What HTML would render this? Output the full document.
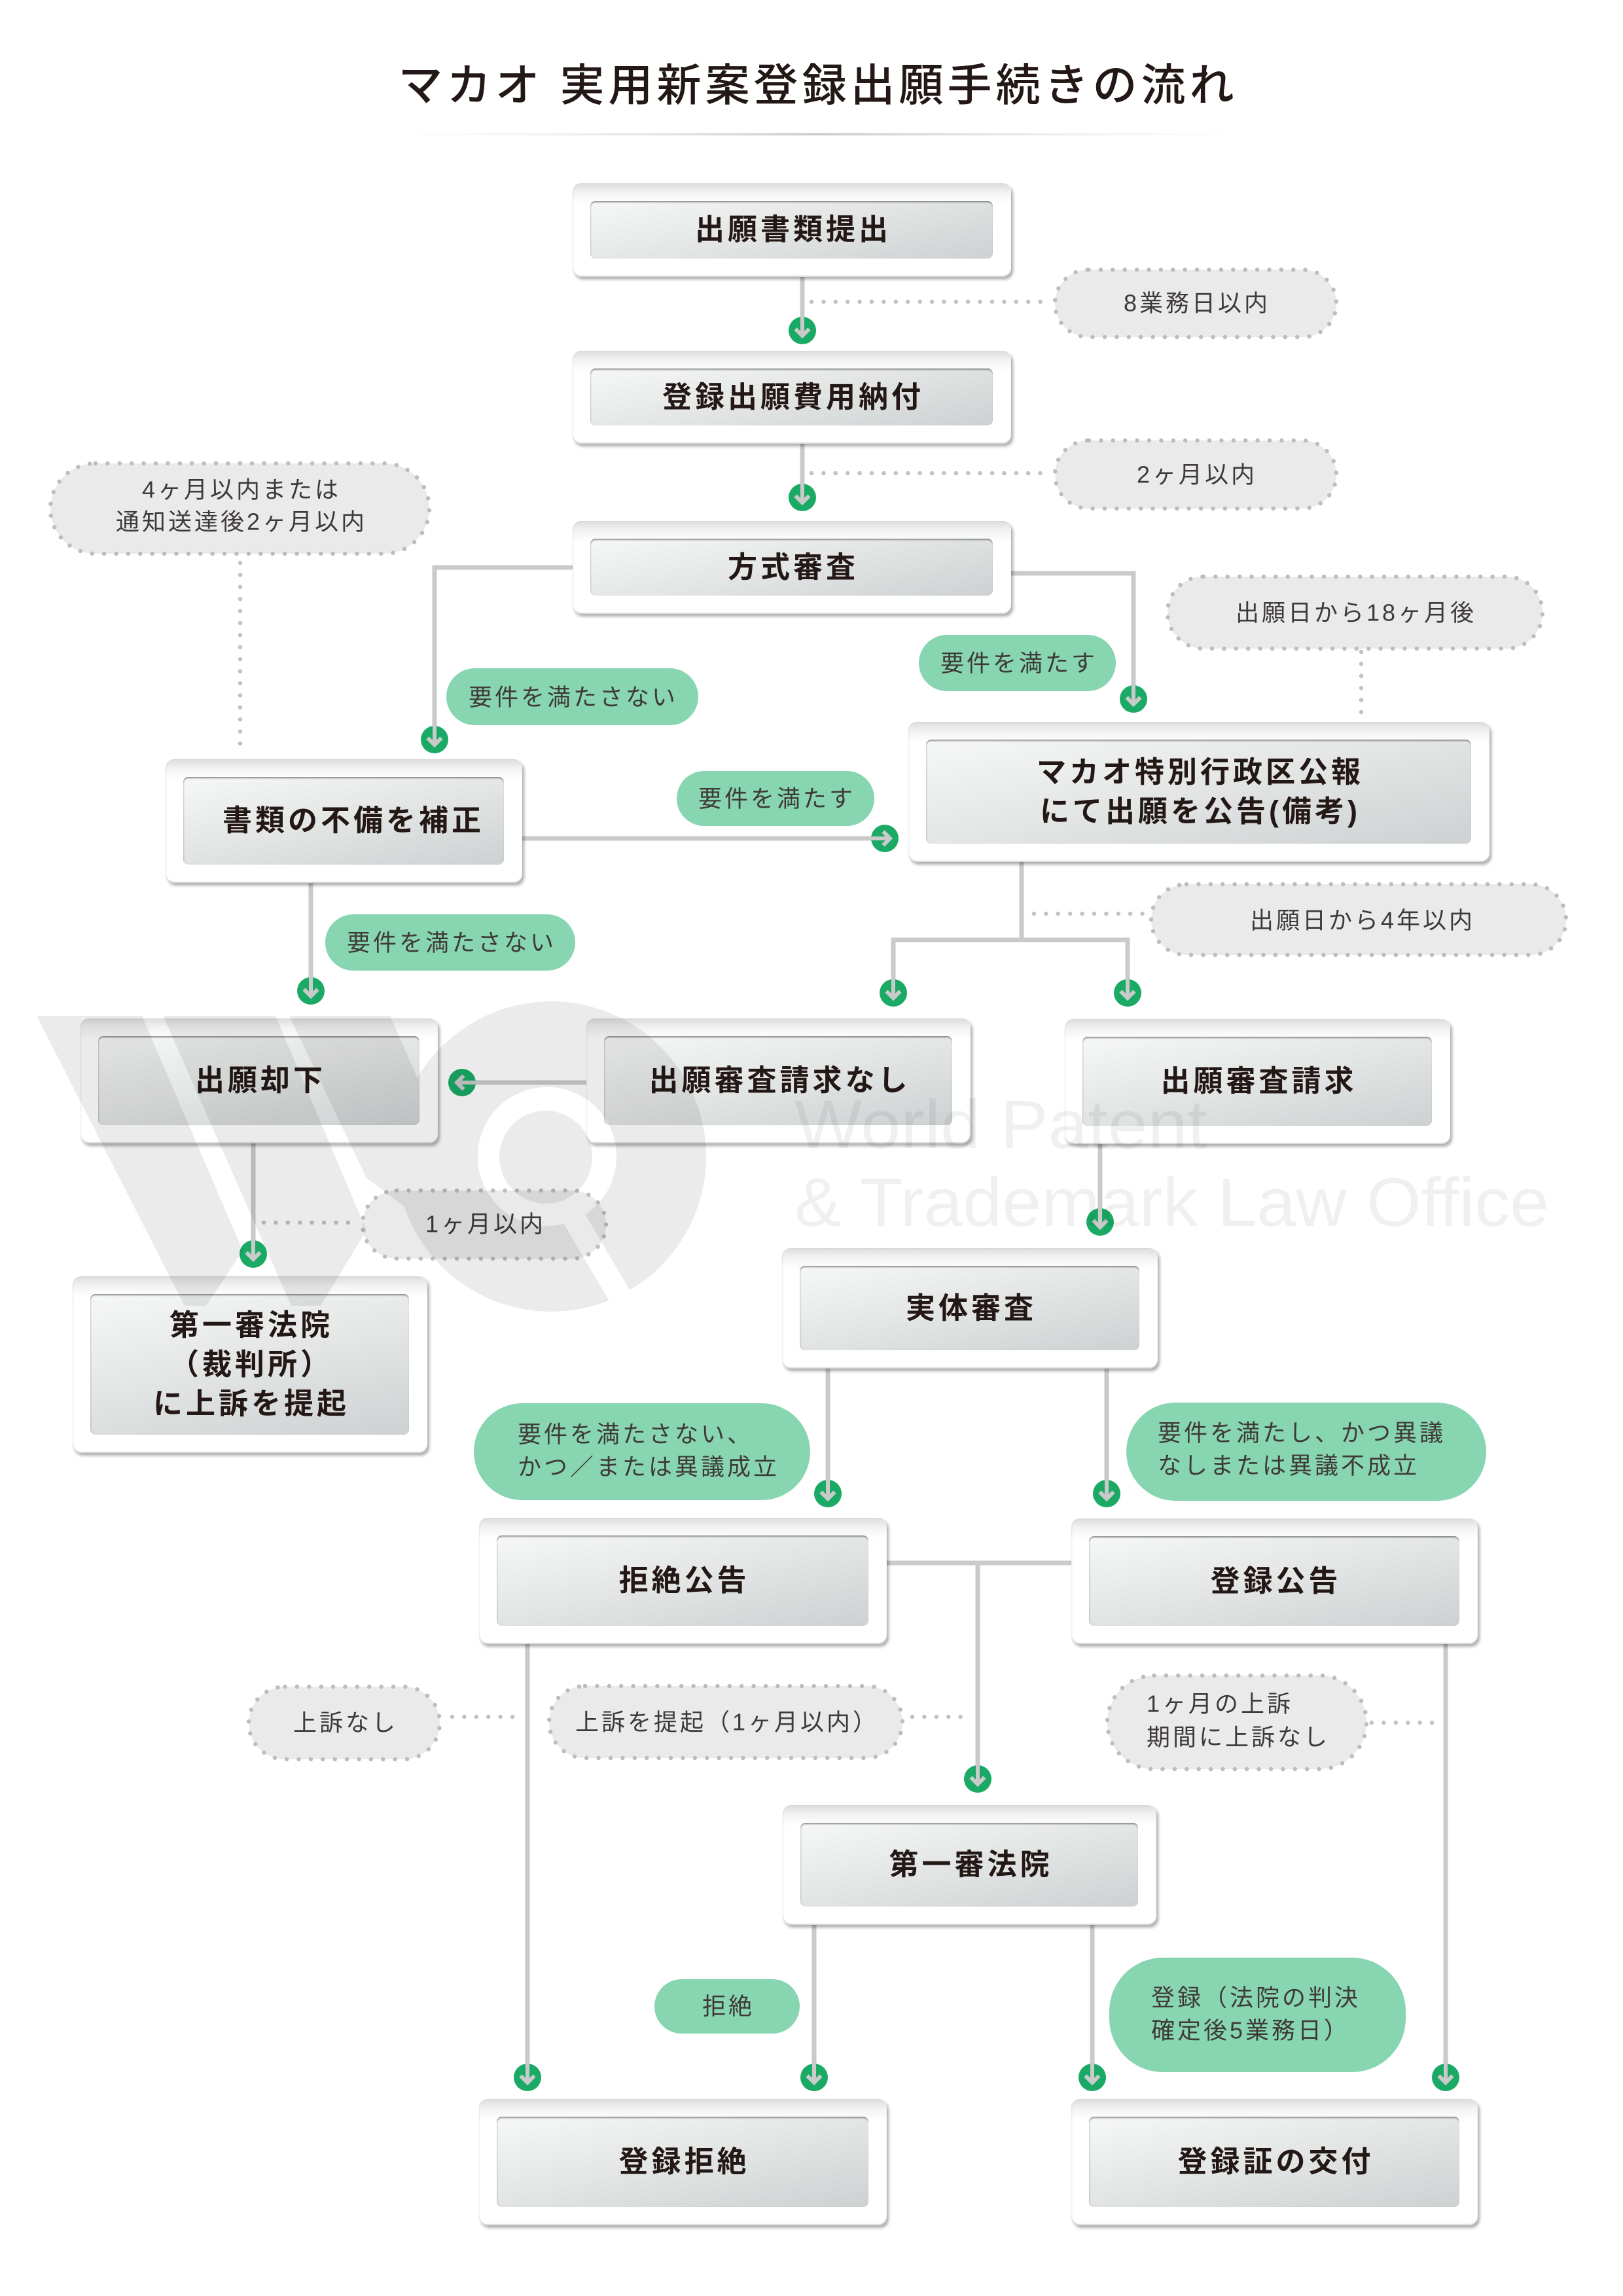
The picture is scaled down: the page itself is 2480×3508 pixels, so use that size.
<!DOCTYPE html>
<html lang="ja"><head><meta charset="utf-8">
<style>
html,body{margin:0;padding:0;background:#fff;}
body{width:2480px;height:3508px;position:relative;overflow:hidden;font-family:"Liberation Sans","Noto Sans CJK JP",sans-serif;}
svg{position:absolute;left:0;top:0;}
.b{position:absolute;border-radius:13px;background:linear-gradient(180deg,#dcdcdc 0,#f2f2f2 14px,#fff 32px,#fff 100%);box-shadow:3px 4px 5px rgba(0,0,0,.32),inset 0 -2px 1px rgba(0,0,0,.13),inset 1px 0 2px rgba(0,0,0,.06);z-index:2;}
.i{position:absolute;left:27px;right:28px;top:27px;bottom:28px;border-radius:8px;background:linear-gradient(168deg,#f6f7f7 0%,#e4e6e6 48%,#cdd1d1 100%);box-shadow:inset 0 3px 2px -1px rgba(60,60,60,.55),inset 2px 0 2px -1px rgba(0,0,0,.15);display:flex;align-items:center;justify-content:center;text-align:center;font-weight:700;font-size:45px;line-height:60px;letter-spacing:5px;color:#231815;padding-left:5px;font-family:"Liberation Sans","Noto Sans CJK JP",sans-serif;}
#l{z-index:1;}
#w{z-index:3;pointer-events:none;}
</style></head><body>

<svg id="l" width="2480" height="3508" viewBox="0 0 2480 3508" xmlns="http://www.w3.org/2000/svg" font-family="'Liberation Sans','Noto Sans CJK JP',sans-serif">
<defs>
<linearGradient id="ul" x1="0" x2="1" y1="0" y2="0">
<stop offset="0" stop-color="#e6e6e6" stop-opacity="0"/>
<stop offset="0.5" stop-color="#cfcfcf"/>
<stop offset="1" stop-color="#e6e6e6" stop-opacity="0"/>
</linearGradient>
<g id="ad"><circle r="21" fill="#1aaa65"/><path d="M0 -21V8M-10.5 -2.5L0 8L10.5 -2.5" stroke="#c9caca" stroke-width="6" fill="none"/></g>
</defs>

<!-- title -->
<text x="1250" y="131" font-size="68" font-weight="500" fill="#231815" text-anchor="middle" dominant-baseline="central" letter-spacing="6">マカオ 実用新案登録出願手続きの流れ</text>
<rect x="601" y="203" width="1299" height="4" fill="url(#ul)"/>

<!-- solid connectors -->
<g stroke="#c9caca" stroke-width="7" fill="none">
<path d="M1226 423V505"/>
<path d="M1226 678V760"/>
<path d="M875 867H664V1130"/>
<path d="M1545 876H1732V1068"/>
<path d="M798 1281H1352"/>
<path d="M475 1349V1514"/>
<path d="M1561 1317V1436M1365 1517V1436H1723V1517"/>
<path d="M896 1654H706"/>
<path d="M387 1747V1916"/>
<path d="M1681 1748V1867"/>
<path d="M1265 2091V2282"/>
<path d="M1691 2091V2282"/>
<path d="M1355 2388H1637M1494 2388V2718"/>
<path d="M806 2512V3174"/>
<path d="M2209 2512V3174"/>
<path d="M1244 2941V3174"/>
<path d="M1669 2941V3174"/>
</g>

<!-- dotted connectors -->
<g stroke="#c2c2c2" stroke-width="6.5" fill="none" stroke-dasharray="0 18.4" stroke-linecap="round">
<path d="M1240 461H1605"/>
<path d="M1240 723H1605"/>
<path d="M367 860V1150"/>
<path d="M2080 996V1096"/>
<path d="M1580 1396H1752"/>
<path d="M403 1868H548"/>
<path d="M691 2623H792"/>
<path d="M1394 2623H1480"/>
<path d="M2096 2632H2200"/>
</g>

<!-- gray pills -->
<g fill="#eaeaea" stroke="#bdbdbd" stroke-width="6.5" stroke-dasharray="0 18.4" stroke-linecap="round">
<rect x="1612" y="412" width="430" height="103" rx="51.5"/>
<rect x="1612" y="673" width="430" height="104" rx="52"/>
<rect x="77" y="708" width="579" height="138" rx="69"/>
<rect x="1784" y="881" width="573" height="110" rx="55"/>
<rect x="1759" y="1351" width="634" height="108" rx="54"/>
<rect x="554" y="1819" width="372" height="104" rx="52"/>
<rect x="380" y="2577" width="292" height="111" rx="55.5"/>
<rect x="839" y="2576" width="540" height="110" rx="55"/>
<rect x="1692" y="2560" width="396" height="143" rx="71.5"/>
</g>

<!-- green pills -->
<g fill="#88d5b1">
<rect x="682" y="1021" width="385" height="87" rx="43.5"/>
<rect x="1404" y="970" width="301" height="86" rx="43"/>
<rect x="1034" y="1178" width="302" height="84" rx="42"/>
<rect x="497" y="1397" width="382" height="86" rx="43"/>
<rect x="724" y="2144" width="514" height="148" rx="74"/>
<rect x="1721" y="2143" width="550" height="150" rx="75"/>
<rect x="1000" y="3024" width="222" height="83" rx="41.5"/>
<rect x="1695" y="2991" width="453" height="175" rx="82"/>
</g>

<!-- pill texts -->
<g font-size="36" fill="#3e3a39" letter-spacing="4" dominant-baseline="central">
<g text-anchor="middle">
<text x="1829" y="463">8業務日以内</text>
<text x="1829" y="725">2ヶ月以内</text>
<text x="369" y="748">4ヶ月以内または</text>
<text x="369" y="797">通知送達後2ヶ月以内</text>
<text x="2072" y="936">出願日から18ヶ月後</text>
<text x="2082" y="1406">出願日から4年以内</text>
<text x="742" y="1870">1ヶ月以内</text>
<text x="528" y="2632">上訴なし</text>
<text x="1111" y="2631">上訴を提起（1ヶ月以内）</text>
<text x="876" y="1065">要件を満たさない</text>
<text x="1557" y="1013">要件を満たす</text>
<text x="1187" y="1220">要件を満たす</text>
<text x="690" y="1440">要件を満たさない</text>
<text x="1113" y="3065">拒絶</text>
</g>
<text x="1752" y="2603">1ヶ月の上訴</text>
<text x="1752" y="2654">期間に上訴なし</text>
<text x="791" y="2191">要件を満たさない、</text>
<text x="791" y="2241">かつ／または異議成立</text>
<text x="1769" y="2189">要件を満たし、かつ異議</text>
<text x="1769" y="2239">なしまたは異議不成立</text>
<text x="1759" y="3052">登録（法院の判決</text>
<text x="1759" y="3102">確定後5業務日）</text>
</g>

<!-- arrowheads -->
<use href="#ad" transform="translate(1226,505)"/>
<use href="#ad" transform="translate(1226,760)"/>
<use href="#ad" transform="translate(664,1130)"/>
<use href="#ad" transform="translate(1732,1068)"/>
<use href="#ad" transform="translate(475,1514)"/>
<use href="#ad" transform="translate(1365,1517)"/>
<use href="#ad" transform="translate(1723,1517)"/>
<use href="#ad" transform="translate(387,1916)"/>
<use href="#ad" transform="translate(1681,1867)"/>
<use href="#ad" transform="translate(1265,2282)"/>
<use href="#ad" transform="translate(1691,2282)"/>
<use href="#ad" transform="translate(1494,2718)"/>
<use href="#ad" transform="translate(806,3174)"/>
<use href="#ad" transform="translate(1244,3174)"/>
<use href="#ad" transform="translate(1669,3174)"/>
<use href="#ad" transform="translate(2209,3174)"/>
<use href="#ad" transform="translate(706,1654) rotate(90)"/>
<use href="#ad" transform="translate(1352,1281) rotate(-90)"/>
</svg>

<!-- boxes -->
<div class="b" style="left:875px;top:280px;width:670px;height:143px"><div class="i">出願書類提出</div></div>
<div class="b" style="left:875px;top:536px;width:670px;height:142px"><div class="i">登録出願費用納付</div></div>
<div class="b" style="left:875px;top:796px;width:670px;height:142px"><div class="i">方式審査</div></div>
<div class="b" style="left:253px;top:1160px;width:545px;height:189px"><div class="i" style="padding-left:30px">書類の不備を補正</div></div>
<div class="b" style="left:1388px;top:1103px;width:888px;height:214px"><div class="i">マカオ特別行政区公報<br>にて出願を公告(備考)</div></div>
<div class="b" style="left:123px;top:1556px;width:546px;height:191px"><div class="i">出願却下</div></div>
<div class="b" style="left:896px;top:1556px;width:587px;height:191px"><div class="i">出願審査請求なし</div></div>
<div class="b" style="left:1627px;top:1557px;width:589px;height:191px"><div class="i">出願審査請求</div></div>
<div class="b" style="left:111px;top:1950px;width:542px;height:270px"><div class="i">第一審法院<br>（裁判所）<br>に上訴を提起</div></div>
<div class="b" style="left:1195px;top:1907px;width:574px;height:184px"><div class="i">実体審査</div></div>
<div class="b" style="left:732px;top:2319px;width:623px;height:193px"><div class="i">拒絶公告</div></div>
<div class="b" style="left:1637px;top:2320px;width:621px;height:192px"><div class="i">登録公告</div></div>
<div class="b" style="left:1196px;top:2758px;width:571px;height:183px"><div class="i">第一審法院</div></div>
<div class="b" style="left:732px;top:3207px;width:623px;height:193px"><div class="i">登録拒絶</div></div>
<div class="b" style="left:1637px;top:3207px;width:621px;height:193px"><div class="i">登録証の交付</div></div>

<!-- watermark -->
<svg id="w" width="2480" height="3508" viewBox="0 0 2480 3508" xmlns="http://www.w3.org/2000/svg">
<defs>
<mask id="wm">
<rect x="0" y="0" width="2480" height="3508" fill="#fff"/>
<path d="M850 1850L885 1840L985 2010L950 2020Z" fill="#000"/>
</mask>
</defs>
<g opacity="0.075" fill="#000" mask="url(#wm)">
<polygon points="56,1552 217,1552 371,1911 315,1995 282,1995"/>
<polygon points="249,1552 421,1552 560,1880 490,1995 445,1995"/>
<polygon points="442,1552 596,1552 705,1800 640,1860 560,1800"/>
<path fill-rule="evenodd" d="M1079 1767A237 237 0 1 1 605 1767A237 237 0 1 1 1079 1767Z M942 1767A106 106 0 1 0 730 1767A106 106 0 1 0 942 1767Z M905 1768A71 71 0 1 1 763 1768A71 71 0 1 1 905 1768Z"/>
</g>
<g fill="#000" opacity="0.055" font-family="'Liberation Sans',sans-serif" font-size="105">
<text x="1214" y="1754" textLength="631" lengthAdjust="spacingAndGlyphs">World Patent</text>
<text x="1214" y="1873" textLength="1153" lengthAdjust="spacingAndGlyphs">&amp; Trademark Law Office</text>
</g>
</svg>
</body></html>
